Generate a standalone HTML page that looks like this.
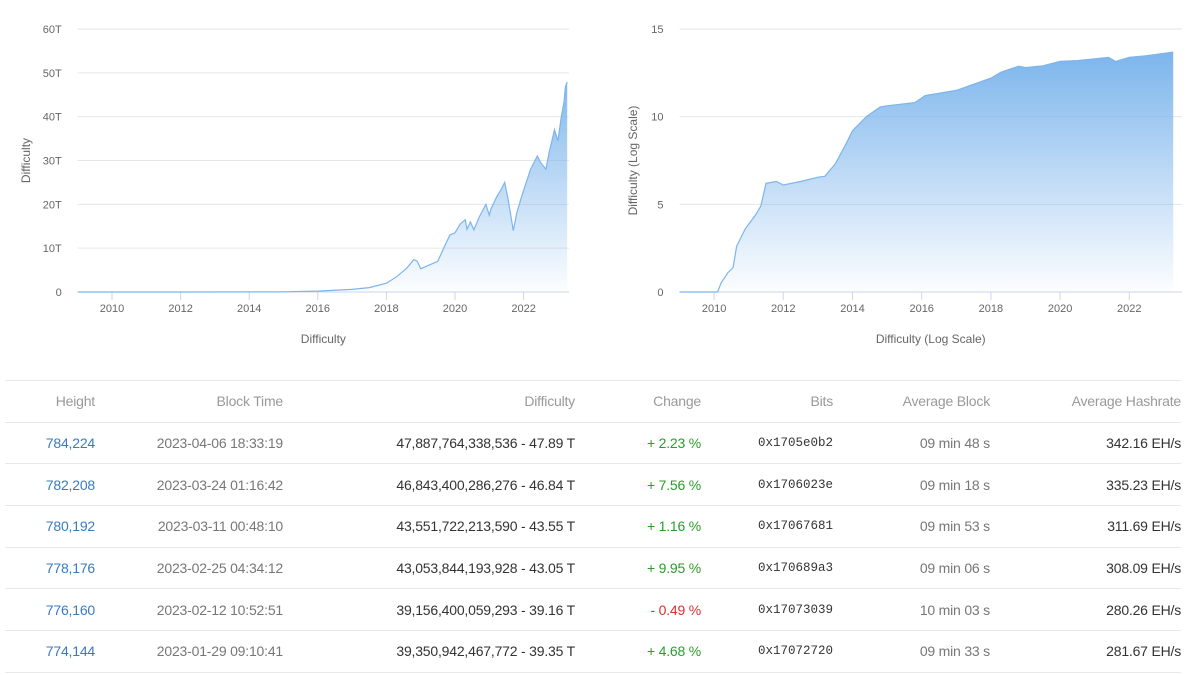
<!DOCTYPE html>
<html><head><meta charset="utf-8">
<style>
body{margin:0;width:1200px;height:675px;background:#fff;font-family:"Liberation Sans",sans-serif;overflow:hidden;position:relative}
svg{position:absolute;left:0;top:0}
table{position:absolute;left:5px;top:380px;width:1176px;border-collapse:collapse;font-size:14px;table-layout:fixed}
td,th{height:40.7px;border-top:1px solid #e8e8e8;text-align:right;padding:0;font-weight:normal;white-space:nowrap;letter-spacing:-0.2px}
tr:last-child td{border-bottom:1px solid #e8e8e8}
th{color:#999}
td{color:#333}
td.h{color:#3a7bbf}
td.t{color:#777}
td.g{color:#2a9d2a}
td.r{color:#d9302c}
td.b{font-family:"Liberation Mono",monospace;font-size:12.5px;letter-spacing:0}
td.a{color:#777}
</style></head><body>
<svg id="chart" width="1200" height="375">
<defs>
<linearGradient id="gl" x1="0" y1="0" x2="0" y2="1"><stop offset="0" stop-color="#7cb5ec" stop-opacity="0.95"/><stop offset="1" stop-color="#7cb5ec" stop-opacity="0.02"/></linearGradient>
<linearGradient id="gr" x1="0" y1="0" x2="0" y2="1"><stop offset="0" stop-color="#7cb5ec" stop-opacity="1"/><stop offset="1" stop-color="#7cb5ec" stop-opacity="0.02"/></linearGradient>
</defs>
</svg>
<table>
<colgroup><col style="width:90px"><col style="width:188px"><col style="width:292px"><col style="width:126px"><col style="width:132px"><col style="width:157px"><col style="width:191px"></colgroup>
<tr><th>Height</th><th>Block Time</th><th>Difficulty</th><th>Change</th><th>Bits</th><th>Average Block</th><th>Average Hashrate</th></tr>
<tr><td class="h">784,224</td><td class="t">2023-04-06 18:33:19</td><td>47,887,764,338,536 - 47.89 T</td><td class="g">+ 2.23 %</td><td class="b">0x1705e0b2</td><td class="a">09 min 48 s</td><td>342.16 EH/s</td></tr>
<tr><td class="h">782,208</td><td class="t">2023-03-24 01:16:42</td><td>46,843,400,286,276 - 46.84 T</td><td class="g">+ 7.56 %</td><td class="b">0x1706023e</td><td class="a">09 min 18 s</td><td>335.23 EH/s</td></tr>
<tr><td class="h">780,192</td><td class="t">2023-03-11 00:48:10</td><td>43,551,722,213,590 - 43.55 T</td><td class="g">+ 1.16 %</td><td class="b">0x17067681</td><td class="a">09 min 53 s</td><td>311.69 EH/s</td></tr>
<tr><td class="h">778,176</td><td class="t">2023-02-25 04:34:12</td><td>43,053,844,193,928 - 43.05 T</td><td class="g">+ 9.95 %</td><td class="b">0x170689a3</td><td class="a">09 min 06 s</td><td>308.09 EH/s</td></tr>
<tr><td class="h">776,160</td><td class="t">2023-02-12 10:52:51</td><td>39,156,400,059,293 - 39.16 T</td><td class="r">- 0.49 %</td><td class="b">0x17073039</td><td class="a">10 min 03 s</td><td>280.26 EH/s</td></tr>
<tr><td class="h">774,144</td><td class="t">2023-01-29 09:10:41</td><td>39,350,942,467,772 - 39.35 T</td><td class="g">+ 4.68 %</td><td class="b">0x17072720</td><td class="a">09 min 33 s</td><td>281.67 EH/s</td></tr>
</table>
<script>
const linYears=[2009,2012,2015,2016,2017,2017.5,2018,2018.3,2018.6,2018.8,2018.9,2019.0,2019.2,2019.5,2019.7,2019.85,2020.0,2020.15,2020.3,2020.35,2020.45,2020.55,2020.7,2020.9,2021.0,2021.05,2021.2,2021.35,2021.45,2021.55,2021.7,2021.8,2021.95,2022.1,2022.2,2022.4,2022.5,2022.65,2022.75,2022.9,2023.0,2023.1,2023.18,2023.22,2023.27];
const linValues=[0,0.01,0.05,0.2,0.6,1.0,2.0,3.5,5.5,7.4,7.0,5.3,6.0,7.0,10.5,13.0,13.5,15.5,16.5,14.3,16.0,14.2,17.0,20.0,17.5,19.0,21.5,23.5,25.0,21.0,14.0,18.0,22.0,25.5,28.0,31.0,29.5,28.0,32.0,37.0,34.5,40.0,43.5,46.8,47.9];
const logYears=[2009,2010.1,2010.2,2010.4,2010.55,2010.65,2010.9,2011.2,2011.35,2011.5,2011.8,2012.0,2012.5,2013.0,2013.2,2013.5,2013.8,2014.0,2014.4,2014.8,2015.0,2015.8,2016.1,2017.0,2018.0,2018.3,2018.8,2019.0,2019.5,2020.0,2020.5,2021.0,2021.4,2021.6,2022.0,2022.5,2023.27];
const logValues=[0,0,0.5,1.1,1.4,2.6,3.6,4.4,4.9,6.2,6.3,6.1,6.3,6.55,6.6,7.3,8.4,9.2,10.0,10.55,10.62,10.8,11.2,11.5,12.2,12.55,12.88,12.8,12.9,13.15,13.2,13.3,13.38,13.15,13.38,13.48,13.68];
const linTicks=["0","10T","20T","30T","40T","50T","60T"];
const logTicks=["0","5","10","15"];
const yearTicks=[2010,2012,2014,2016,2018,2020,2022];
const svg=document.getElementById('chart');
const NS='http://www.w3.org/2000/svg';
function mk(t,a,txt){const e=document.createElementNS(NS,t);for(const k in a)e.setAttribute(k,a[k]);if(txt!==undefined)e.textContent=txt;svg.appendChild(e);return e;}
function drawChart(o){
  const xs=y=>o.x0+(y-2009)*o.pxy;
  const ys=v=>o.yb-(v/o.ymax)*(o.yb-o.yt);
  o.ticks.forEach((t,i)=>{
    const v=i*o.step,y=ys(v);
    const g=mk('line',{x1:o.x0,x2:o.x1,y1:y,y2:y,stroke:i==0?'#ccd6eb':'#e6e6e6','stroke-width':1});
    
    const l=mk('text',{x:o.x0-16,y:y+4,'text-anchor':'end','font-size':11,fill:'#666'},t);
    
  });
  yearTicks.forEach(yr=>{
    const x=xs(yr);
    const tk=mk('line',{x1:x,x2:x,y1:o.yb,y2:o.yb+8,stroke:'#ccd6eb'});
    
    const l=mk('text',{x:x,y:o.yb+20,'text-anchor':'middle','font-size':11,fill:'#666'},String(yr));
    
  });
  let d='';o.yrs.forEach((yr,i)=>{d+=(i?'L':'M')+xs(yr).toFixed(1)+','+ys(o.vals[i]).toFixed(1);});
  const last=o.yrs[o.yrs.length-1];
  const a=mk('path',{d:d+'L'+xs(last)+','+o.yb+'L'+xs(o.yrs[0])+','+o.yb+'Z',fill:o.fill});
  
  const p=mk('path',{d:d,fill:'none',stroke:'#7cb5ec','stroke-width':1.2});
  
  const xt=mk('text',{x:(o.x0+o.x1)/2,y:343,'text-anchor':'middle','font-size':12,fill:'#666'},o.title);
  
  const cy=(o.yt+o.yb)/2;
  const yt=mk('text',{x:o.ytx,y:cy,'text-anchor':'middle','font-size':12,fill:'#666',transform:'rotate(-90 '+o.ytx+' '+cy+')'},o.title);
  
}
drawChart({x0:77.7,x1:569,pxy:34.3,yt:29,yb:292,ymax:60,step:10,ticks:linTicks,yrs:linYears,vals:linValues,fill:'url(#gl)',title:'Difficulty',ytx:30});
drawChart({x0:679.5,x1:1182,pxy:34.6,yt:29,yb:292,ymax:15,step:5,ticks:logTicks,yrs:logYears,vals:logValues,fill:'url(#gr)',title:'Difficulty (Log Scale)',ytx:637});
</script>
</body></html>
